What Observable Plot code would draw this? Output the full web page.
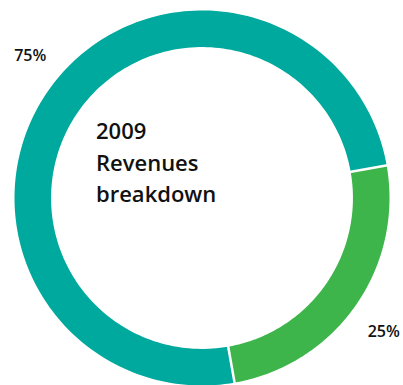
<!DOCTYPE html>
<html>
<head>
<meta charset="utf-8">
<script src="https://cdn.jsdelivr.net/npm/d3@7"></script>
<script src="https://cdn.jsdelivr.net/npm/@observablehq/plot@0.6"></script>
<style>
  html, body { margin: 0; padding: 0; background: #fff; }
  #chart svg { display: block; }
</style>
</head>
<body>
<div id="chart"></div>
<script>
// Data
const categories = ["Segment A", "Segment B"];
const values = [75, 25];
const labels = ["75%", "25%"];
const title = "2009\nRevenues\nbreakdown";

const W = 403, H = 385;
const R = 187.5;            // outer radius in px
const cx = 201.5, cy = 197.5;
const innerRatio = 0.805;
const startDeg = 170;

const pie = d3.pie().sort(null)
  .startAngle(startDeg * Math.PI / 180)
  .endAngle(startDeg * Math.PI / 180 + 2 * Math.PI);
const arcs = pie(values).map((a, i) => ({...a, cat: categories[i], label: labels[i]}));

// polygon points per slice (unit radius data space)
const pts = [];
for (const a of arcs) {
  const n = 180;
  for (let k = 0; k <= n; k++) {
    const t = a.startAngle + (a.endAngle - a.startAngle) * k / n;
    pts.push({x: Math.sin(t), y: Math.cos(t), cat: a.cat});
  }
  for (let k = n; k >= 0; k--) {
    const t = a.startAngle + (a.endAngle - a.startAngle) * k / n;
    pts.push({x: innerRatio * Math.sin(t), y: innerRatio * Math.cos(t), cat: a.cat});
  }
}
const seps = arcs.map(a => ({
  x1: (innerRatio - 0.02) * Math.sin(a.startAngle), y1: (innerRatio - 0.02) * Math.cos(a.startAngle),
  x2: 1.02 * Math.sin(a.startAngle), y2: 1.02 * Math.cos(a.startAngle)
}));
const labelPts = arcs.map(a => {
  const m = (a.startAngle + a.endAngle) / 2;
  return {x: 1.19 * Math.sin(m), y: 1.19 * Math.cos(m), label: a.label, cat: a.cat};
});

const chart = Plot.plot({
  width: W, height: H,
  margin: 0,
  x: {domain: [-cx / R, (W - cx) / R], axis: null},
  y: {domain: [-(H - cy) / R, cy / R], axis: null},
  color: {domain: categories, range: ["#00A99D", "#3DB54A"]},
  style: {fontFamily: "'Open Sans', sans-serif", background: "#fff"},
  marks: [
    Plot.line(pts, {x: "x", y: "y", z: "cat", fill: "cat", stroke: "none", curve: "linear-closed"}),
    Plot.link(seps, {x1: "x1", y1: "y1", x2: "x2", y2: "y2", stroke: "white", strokeWidth: 2.5}),
    Plot.text([labelPts[0]], {x: "x", y: "y", text: "label", dx: 11, dy: -14, fontSize: 16, fontWeight: 600, fill: "#111"}),
    Plot.text([labelPts[1]], {x: "x", y: "y", text: "label", dx: -1, dy: 6, fontSize: 16, fontWeight: 600, fill: "#111"}),
    Plot.text([title], {x: () => 0, y: () => 0, text: d => d, textAnchor: "start", lineAnchor: "top",
      dx: -106, dy: -82, fontSize: 22, fontWeight: 600, lineHeight: 1.45, fill: "#111"})
  ]
});
document.getElementById("chart").appendChild(chart);
</script>
</body>
</html>
